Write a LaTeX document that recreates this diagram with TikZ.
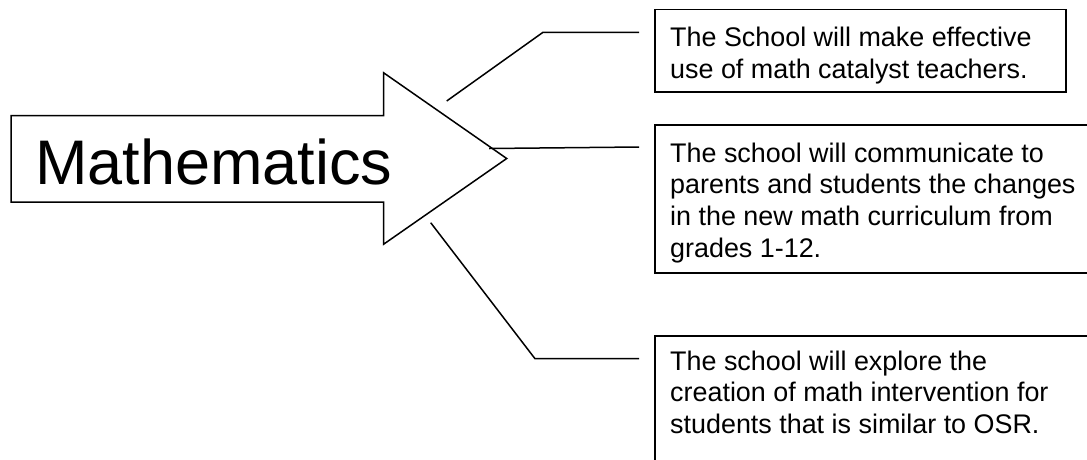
\documentclass[tikz,border=0pt]{standalone}
\usepackage{fontspec}
\setmainfont{Liberation Sans}
\begin{document}
\begin{tikzpicture}[x=1pt,y=-1pt,
  outline/.style={draw=black, line width=1.5pt, line join=miter},
  box/.style={draw=black, line width=1.5pt, rectangle, inner sep=0pt, anchor=north west},
  boxtext/.style={anchor=north west, inner sep=0pt, align=left, font=\fontsize{26.9}{31.6}\selectfont},
  link/.style={draw=black, line width=1.5pt}]
\clip (0,0) rectangle (1087,459);
\fill[white] (0,0) rectangle (1087,459);
% big arrow
\draw[outline] (11,115.5) -- (383.5,115.5) -- (383.5,72.7) -- (506.7,158.5)
  -- (383.5,244.3) -- (383.5,202) -- (11,202) -- cycle;
\node[anchor=base west, inner sep=0pt, font=\fontsize{63}{70}\selectfont] (math) at (35,184) {Mathematics};
% boxes
\node[box, minimum width=411pt, minimum height=82.5pt] (b1) at (654,8.5) {};
\node[box, minimum width=450pt, minimum height=148pt] (b2) at (654,124) {};
\node[box, minimum width=450pt, minimum height=150pt] (b3) at (654,335) {};
\node[boxtext] (t1) at (670,24.4) {\strut The School will make effective\\use of math catalyst teachers.};
\node[boxtext] (t2) at (670,139.9) {\strut The school will communicate to\\parents and students the changes\\in the new math curriculum from\\grades 1-12.};
\node[boxtext] (t3) at (670,347.9) {\strut The school will explore the\\creation of math intervention for\\students that is similar to OSR.};
% connectors
\coordinate (c1s) at (446.7,101);
\coordinate (c1b) at (543,32.3);
\coordinate (c1e) at (639,32.3);
\coordinate (c2s) at (489,148.5);
\coordinate (c2e) at (639,147);
\coordinate (c3s) at (430.7,222.7);
\coordinate (c3b) at (535,358.7);
\coordinate (c3e) at (639,358.7);
\draw[link] (c1s) -- (c1b) -- (c1e);
\draw[link] (c2s) -- (c2e);
\draw[link] (c3s) -- (c3b) -- (c3e);
\end{tikzpicture}
\end{document}
